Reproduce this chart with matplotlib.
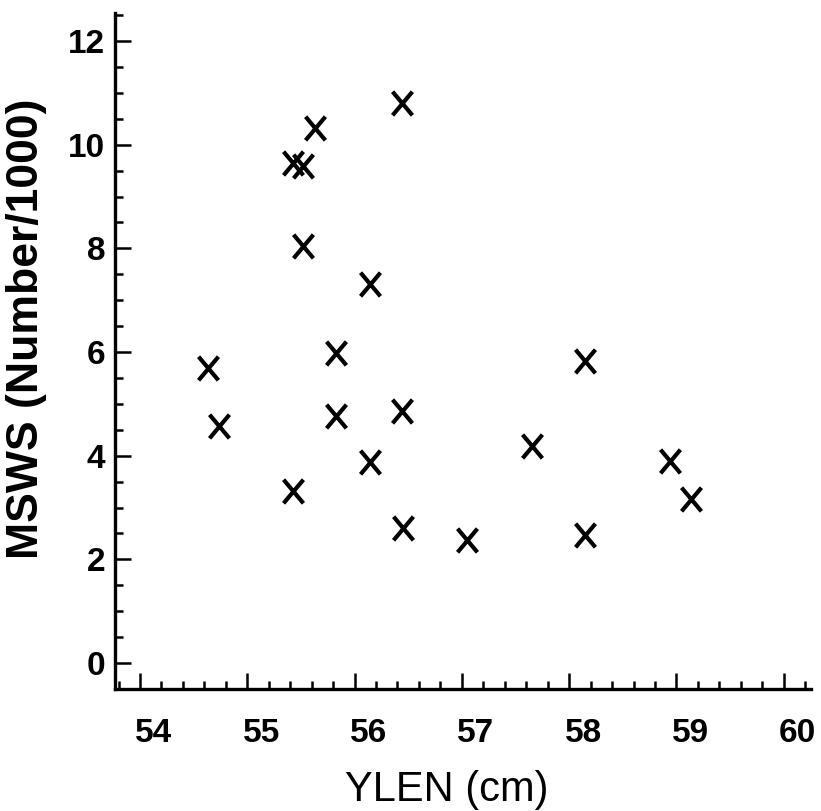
import matplotlib
matplotlib.use("Agg")
import matplotlib.pyplot as plt
from matplotlib.path import Path
from matplotlib.markers import MarkerStyle
from matplotlib.ticker import MultipleLocator
from matplotlib.transforms import ScaledTranslation

plt.rcParams['font.family'] = ['Liberation Sans', 'DejaVu Sans']

# body length (cm) vs. MSWS count (thousands)
ylen = [56.44, 55.63, 55.43, 55.52, 55.52, 56.14, 55.83, 54.63, 54.74, 55.83,
        56.44, 56.14, 55.43, 56.45, 57.05, 57.65, 58.15, 58.94, 59.14, 58.15]
msws = [10.80, 10.32, 9.65, 9.59, 8.05, 7.31, 5.99, 5.69, 4.57, 4.77,
        4.86, 3.87, 3.31, 2.60, 2.37, 4.19, 5.83, 3.90, 3.16, 2.48]

x_ticks = [54, 55, 56, 57, 58, 59, 60]
y_ticks = [0, 2, 4, 6, 8, 10, 12]

# a slightly tall "X" like a typed letter
x_path = Path([(-0.42, -0.5), (0.42, 0.5), (-0.42, 0.5), (0.42, -0.5)],
              [Path.MOVETO, Path.LINETO, Path.MOVETO, Path.LINETO])

fig = plt.figure(figsize=(8.21, 8.11), dpi=100)
ax = fig.add_axes([115 / 821, 122 / 811, 696 / 821, 676 / 811])

ax.plot(ylen, msws, linestyle='none', marker=MarkerStyle(x_path),
        markersize=17, markeredgewidth=3.0, color='black')

ax.set_xlim(53.767, 60.254)
ax.set_ylim(-0.5, 12.54)
ax.set_xticks(x_ticks)
ax.set_yticks(y_ticks)
ax.xaxis.set_minor_locator(MultipleLocator(0.2))
ax.yaxis.set_minor_locator(MultipleLocator(0.5))

for side in ('top', 'right'):
    ax.spines[side].set_visible(False)
for side in ('left', 'bottom'):
    ax.spines[side].set_linewidth(2.4)

ax.tick_params(which='major', direction='in', length=11.5, width=1.8,
               labelsize=24, color='black')
ax.tick_params(which='minor', direction='in', length=5.8, width=1.8)
ax.tick_params(axis='x', which='major', pad=21)
ax.tick_params(axis='y', which='major', pad=7)
for lbl in ax.get_xticklabels() + ax.get_yticklabels():
    lbl.set_fontweight('bold')

# x labels sit a little right of their ticks
shift = ScaledTranslation(0.14, 0, fig.dpi_scale_trans)
for lbl in ax.get_xticklabels():
    lbl.set_transform(lbl.get_transform() + shift)

ax.set_xlabel('YLEN (cm)', fontsize=30)
ax.xaxis.set_label_coords(0.476, -0.12)
ax.set_ylabel('MSWS (Number/1000)', fontsize=32, fontweight='bold')
ax.yaxis.set_label_coords(-0.098, 0.533)

fig.savefig('out.png', dpi=100)
